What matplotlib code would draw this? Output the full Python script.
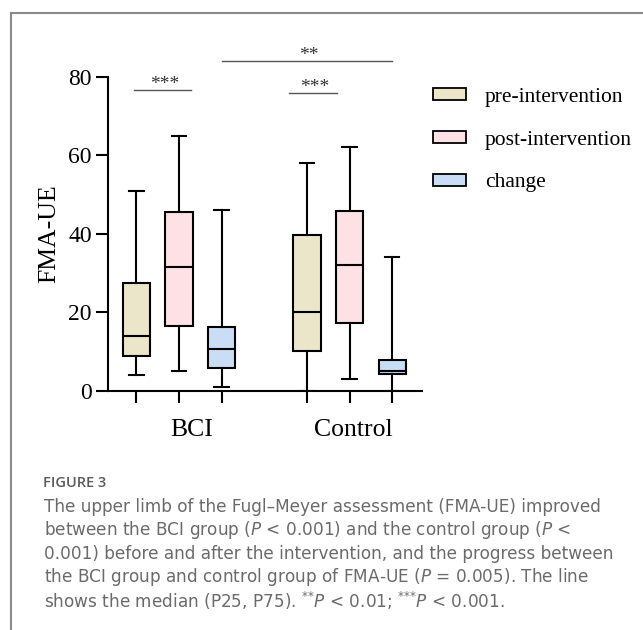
import matplotlib
matplotlib.use("Agg")
import matplotlib.pyplot as plt
from matplotlib.patches import Patch
from matplotlib.lines import Line2D

# box statistics (FMA-UE)
groups = ['BCI', 'Control']
series = ['pre-intervention', 'post-intervention', 'change']
whislo = [4, 5, 1, 0, 3, 0]
q1 = [8.9, 16.6, 5.9, 10.3, 17.2, 4.2]
med = [14, 31.5, 10.6, 20, 32.1, 5.1]
q3 = [27.6, 45.5, 16.2, 39.7, 45.7, 7.9]
whishi = [51, 65, 46, 58, 62, 34]
positions = [1, 2, 3, 5, 6, 7]
colors = ['#EBE6C9', '#FDE1E4', '#C9DDF5']

plt.rcParams['font.family'] = 'Liberation Serif'
plt.rcParams['mathtext.fontset'] = 'dejavusans'

fig = plt.figure(figsize=(6.43, 6.30), dpi=100)
ax = fig.add_axes([108 / 643, 1 - 391 / 630, (422 - 108) / 643, (391 - 76.7) / 630])

stats = []
for i in range(len(positions)):
    stats.append({'whislo': whislo[i], 'q1': q1[i], 'med': med[i],
                  'q3': q3[i], 'whishi': whishi[i], 'fliers': []})

bp = ax.bxp(stats, positions=positions, widths=0.64, patch_artist=True,
            showfliers=False, capwidths=0.34,
            boxprops=dict(edgecolor='black', linewidth=1.5),
            medianprops=dict(color='black', linewidth=1.5),
            whiskerprops=dict(color='black', linewidth=1.5),
            capprops=dict(color='black', linewidth=1.5))
for i, box in enumerate(bp['boxes']):
    box.set_facecolor(colors[i % 3])

ax.set_xlim(0.337, 7.70)
ax.set_ylim(0, 80)
ax.set_yticks([0, 20, 40, 60, 80])
ax.set_xticks(positions)
ax.set_xticklabels([])
ax.tick_params(axis='both', direction='out', length=8.6, width=1.5, labelsize=17, pad=3)
for s in ['top', 'right']:
    ax.spines[s].set_visible(False)
for s in ['left', 'bottom']:
    ax.spines[s].set_linewidth(1.5)
ax.set_ylabel('FMA-UE', fontsize=18.5, labelpad=6)

# group labels
for g, xpos in zip(groups, [2.3, 6.1]):
    ax.text(xpos, -0.125, g, transform=ax.get_xaxis_transform(),
            ha='center', va='center', fontsize=18.5)

# significance marks
sig = [(0.95, 2.28, 76.6, '***'), (4.58, 5.70, 75.8, '***'), (3.0, 7.0, 84.0, '**')]
for x0, x1, y, lab in sig:
    ax.plot([x0, x1], [y, y], color='#555555', lw=1, clip_on=False)
    ax.text((x0 + x1) / 2 + 0.05, y - 0.7, lab, ha='center', va='bottom',
            fontsize=14, color='#333333', clip_on=False)

handles = [Patch(facecolor=c, edgecolor='black', linewidth=1.3) for c in colors]
fig.legend(handles, series, loc='upper left', bbox_to_anchor=(433 / 643, 1 - 88 / 630),
           frameon=False, fontsize=15.5, handlelength=1.55, handleheight=0.5,
           handletextpad=0.85, labelspacing=1.1, borderpad=0, borderaxespad=0)

# frame of the figure panel (only left and top edges visible)
fig.add_artist(Line2D([11 / 643, 11 / 643], [0, 1 - 13 / 630], color='#8a8a8a', lw=1.5))
fig.add_artist(Line2D([11 / 643, 1], [1 - 13 / 630, 1 - 13 / 630], color='#8a8a8a', lw=1.5))

# caption
fig.text(43 / 643, 1 - 483 / 630, 'FIGURE 3', family='Open Sans', weight='semibold',
         fontsize=10.5, color='#5a5a5a', va='center')
caption = [
    'The upper limb of the Fugl\u2013Meyer assessment (FMA-UE) improved',
    'between the BCI group ($P$ < 0.001) and the control group ($P$ <',
    '0.001) before and after the intervention, and the progress between',
    'the BCI group and control group of FMA-UE ($P$ = 0.005). The line',
    'shows the median (P25, P75). $^{*{*}}P$ < 0.01; $^{*{*{*}}}P$ < 0.001.',
]
for k, line in enumerate(caption):
    fig.text(44 / 643, 1 - (507 + 23.4 * k) / 630, line, family='DejaVu Sans',
             fontsize=12.2, color='#6a6a6a', va='center')

fig.savefig('out.png', dpi=100)
